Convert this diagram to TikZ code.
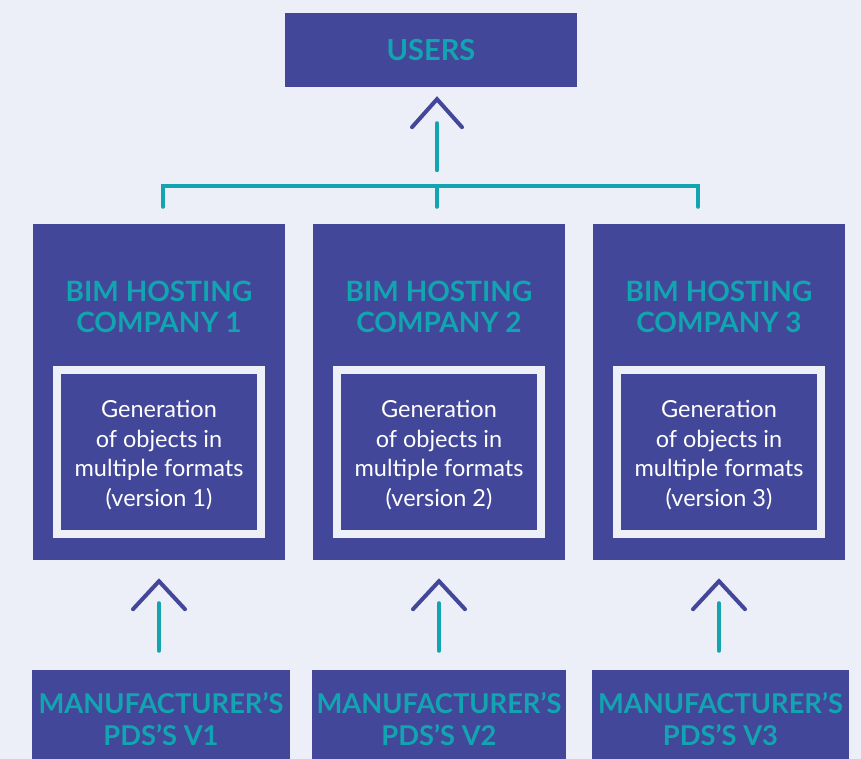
\documentclass[tikz,border=0pt]{standalone}
\usepackage{fontspec}
\setmainfont{Lato}
\definecolor{bgc}{HTML}{ECEFF7}
\definecolor{purp}{HTML}{43479A}
\definecolor{tealc}{HTML}{12A4B0}
\definecolor{framec}{HTML}{EEF0F7}
\tikzset{
  box/.style={fill=purp, draw=none, inner sep=0pt, anchor=center},
  title/.style={text=tealc, font=\fontsize{28}{31}\selectfont\bfseries, align=center, inner sep=0pt},
  inner/.style={draw=framec, line width=8pt, fill=purp, text=white, align=center,
     minimum width=204pt, minimum height=164pt, inner sep=0pt,
     font=\fontsize{23.5}{29.5}\selectfont},
  tline/.style={draw=tealc, line width=4pt, line cap=round},
  chev/.style={draw=purp, line width=4pt, line cap=round, line join=miter},
}
\begin{document}
\begin{tikzpicture}[x=1pt,y=-1pt]
\useasboundingbox (0,0) rectangle (861,759);
\fill[bgc] (0,0) rectangle (861,759);
\clip (0,0) rectangle (861,759);
% top
\node[box, minimum width=292pt, minimum height=74pt] (users) at (431,50) {};
\node[title, font=\fontsize{29}{31}\selectfont\bfseries] at (users.center) {USERS};
% companies
\foreach \i/\x in {1/159,2/439,3/719}{
  \node[box, minimum width=252pt, minimum height=336pt] (c\i) at (\x,392) {};
  \node[title] (t\i) at (\x,307) {BIM HOSTING\\COMPANY \i};
  \node[inner] (g\i) at (\x,452) {};
  \node[text=white, align=center, inner sep=0pt, font=\fontsize{23.5}{29.5}\selectfont] at ([yshift=-3pt]g\i.center) {Generation\\of objects in\\multiple formats\\(version \i)};
}
% manufacturers
\node[box, minimum width=258pt, minimum height=110pt] (m1) at (161,725) {};
\node[box, minimum width=254pt, minimum height=110pt] (m2) at (439,725) {};
\node[box, minimum width=257pt, minimum height=110pt] (m3) at (720.5,725) {};
\foreach \i in {1,2,3}{
  \node[title, font=\fontsize{27.3}{32}\selectfont\bfseries] at ([yshift=-49pt]m\i.north) {MANUFACTURER’S\\PDS’S V\i};
}
% bus to users
\draw[tline] ([xshift=4pt,yshift=17pt]c1.north) -- ([xshift=4pt,yshift=38pt]c1.north) -| ([xshift=-21pt,yshift=17pt]c3.north);
\draw[tline] ([xshift=-2pt,yshift=38pt]c2.north) -- ([xshift=-2pt,yshift=17pt]c2.north);
\draw[tline] ([xshift=6pt,yshift=-83pt]users.south) -- ([xshift=6pt,yshift=-36pt]users.south);
\draw[chev] ([xshift=-19pt,yshift=-40pt]users.south) -- ([xshift=6pt,yshift=-12pt]users.south) -- ([xshift=31pt,yshift=-40pt]users.south);
% lower connectors
\foreach \i in {1,2,3}{
  \draw[tline] ([yshift=19pt]m\i.north -| c\i.south) -- ([yshift=-43pt]c\i.south);
  \draw[chev] ([xshift=-26pt,yshift=-49pt]c\i.south) -- ([yshift=-21pt]c\i.south) -- ([xshift=26pt,yshift=-49pt]c\i.south);
}
\end{tikzpicture}
\end{document}
